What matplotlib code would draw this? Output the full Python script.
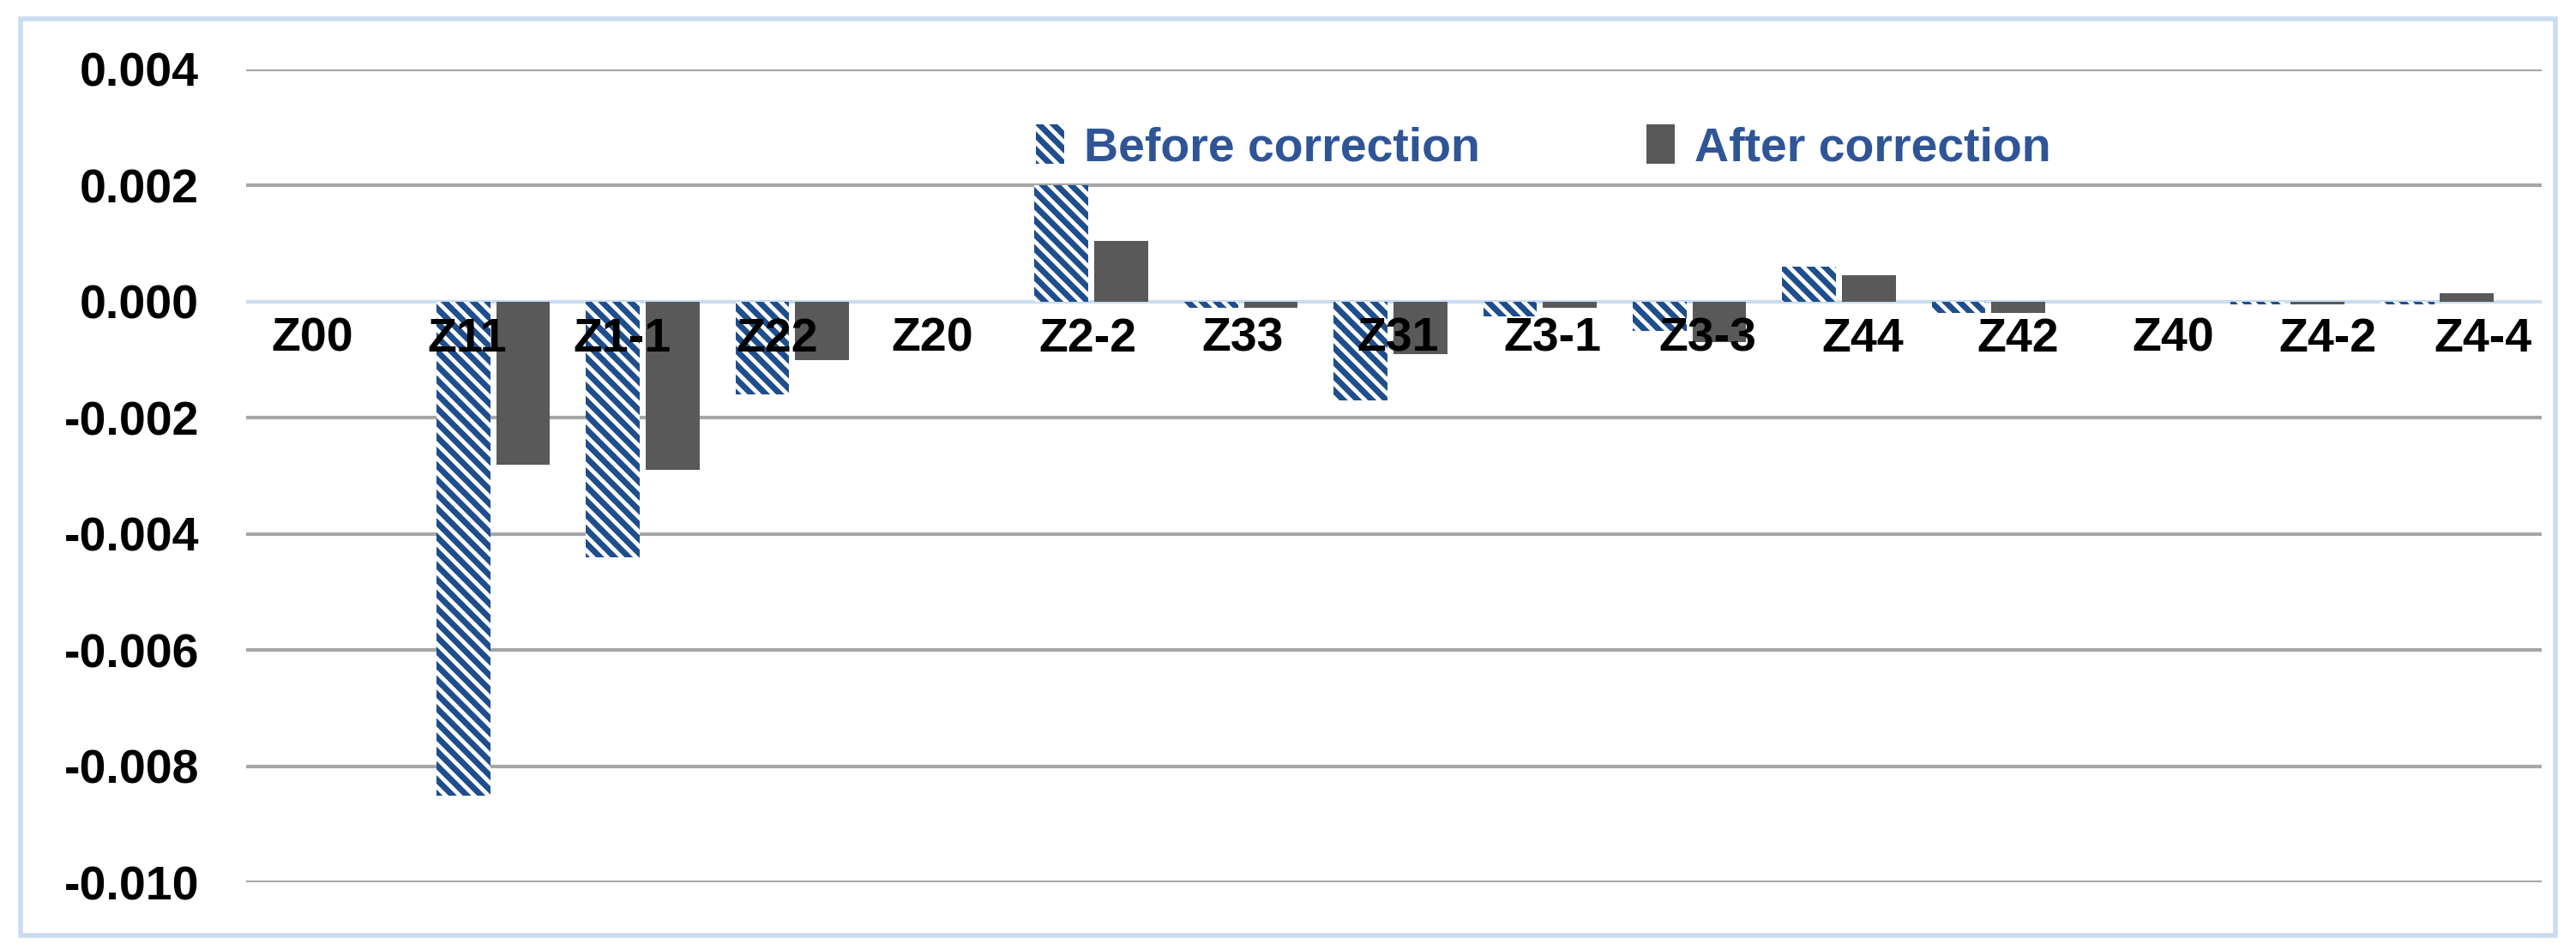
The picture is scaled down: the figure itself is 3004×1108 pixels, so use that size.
import matplotlib.pyplot as plt
from matplotlib.patches import Rectangle
import numpy as np

plt.rcParams['font.family'] = ['Liberation Sans Narrow', 'Liberation Sans', 'DejaVu Sans']
plt.rcParams['hatch.linewidth'] = 5.0
plt.rcParams['hatch.color'] = '#1F4E8C'

cats = ['Z00', 'Z11', 'Z1-1', 'Z22', 'Z20', 'Z2-2', 'Z33', 'Z31', 'Z3-1', 'Z3-3',
        'Z44', 'Z42', 'Z40', 'Z4-2', 'Z4-4']
before = [0.0, -0.0085, -0.0044, -0.0016, 0.0, 0.0020, -0.0001, -0.0017, -0.00025,
          -0.0005, 0.0006, -0.0002, 0.0, -0.00005, -0.00005]
after = [0.0, -0.0028, -0.0029, -0.0010, 0.0, 0.00105, -0.0001, -0.0009, -0.0001,
         -0.0007, 0.00045, -0.0002, 0.0, -0.00005, 0.00015]
yticks = [0.004, 0.002, 0.0, -0.002, -0.004, -0.006, -0.008, -0.010]

fig = plt.figure(figsize=(30.04, 11.08), dpi=100)
fig.patches.append(Rectangle((0.008, 0.015), 0.984, 0.965, transform=fig.transFigure,
                             fill=False, edgecolor='#C9DCF0', linewidth=4))
ax = fig.add_axes([0.0957, 0.071, 0.891, 0.856])

x = np.arange(len(cats))
w = 0.36
ax.bar(x - 0.2, before, w, color='white', hatch='\\\\', edgecolor='#1F4E8C',
       linewidth=0, label='Before correction', zorder=3)
ax.bar(x + 0.2, after, w, color='#595959', linewidth=0, label='After correction', zorder=3)

ax.set_xlim(-0.65, len(cats) - 0.3)
ax.set_ylim(-0.010, 0.004)
ax.set_yticks(yticks)
ax.set_yticklabels(['%.3f' % v for v in yticks], fontsize=40, fontweight='bold')
ax.tick_params(axis='y', length=0, pad=40)
ax.set_xticks([])
for v in yticks:
    if v != 0.0:
        ax.axhline(v, color='#A6A6A6', linewidth=3, zorder=1)
ax.axhline(0.0, color='#C9DCF0', linewidth=3, zorder=2)
for s in ax.spines.values():
    s.set_visible(False)

# category labels are spread a little wider than the bars in the reference
for i, c in enumerate(cats):
    ax.text(-0.21 + i * 1.037, -0.00065, c, ha='center', va='center', fontsize=40,
            fontweight='bold', zorder=4)

leg = ax.legend(loc='upper center', bbox_to_anchor=(0.565, 0.985), ncol=2, frameon=False,
                fontsize=40, columnspacing=3.5, handlelength=0.6, handleheight=0.9,
                handletextpad=0.4)
for t in leg.get_texts():
    t.set_color('#2F5597')
    t.set_fontweight('bold')

fig.savefig('out.png', dpi=100)
